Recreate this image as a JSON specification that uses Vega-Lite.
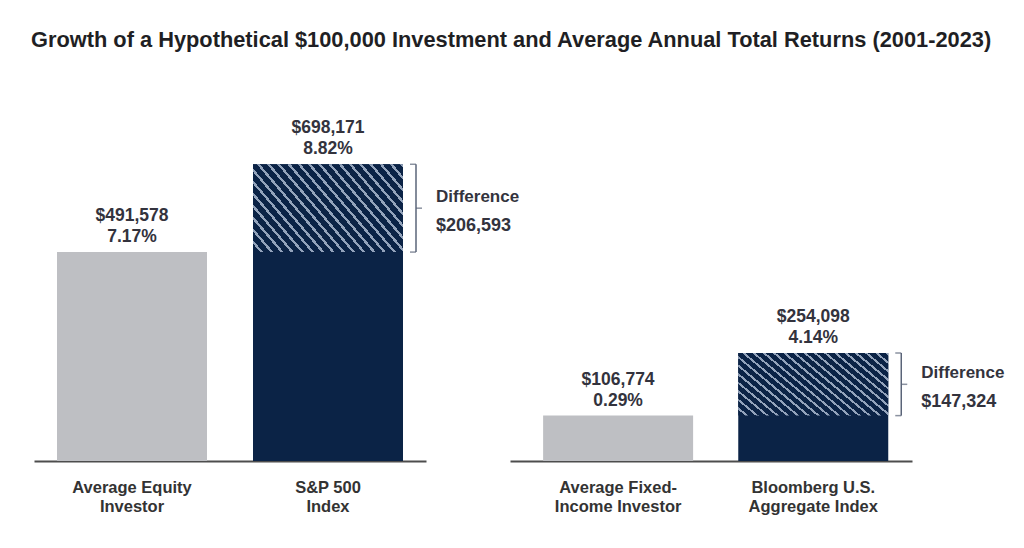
{
  "$schema": "https://vega.github.io/schema/vega-lite/v6.json",
  "padding": {"left": 31, "top": 30, "right": 5, "bottom": 5},
  "background": "white",
  "title": {"text": "Growth of a Hypothetical $100,000 Investment and Average Annual Total Returns (2001-2023)", "font": "Liberation Sans", "fontSize": 21.8, "fontWeight": "bold", "color": "#1F1F24", "anchor": "start", "dx": -3, "offset": 67},
  "datasets": {
    "bars": [
      {"group": "equity", "label": "Average Equity|Investor", "kind": "investor", "value": 491578, "ret": "7.17%"},
      {"group": "equity", "label": "S&P 500|Index", "kind": "index", "value": 698171, "base": 491578, "diff": 206593, "ret": "8.82%"},
      {"group": "fixed", "label": "Average Fixed-|Income Investor", "kind": "investor", "value": 106774, "ret": "0.29%"},
      {"group": "fixed", "label": "Bloomberg U.S.|Aggregate Index", "kind": "index", "value": 254098, "base": 106774, "diff": 147324, "ret": "4.14%"}
    ]
  },
  "data": {"name": "bars"},
  "bounds": "flush",
  "spacing": 84,
  "config": {
    "view": {"stroke": null},
    "font": "Liberation Sans",
    "axis": {"domainColor": "#4D4D4D", "domainWidth": 2, "ticks": false, "grid": false, "labelFont": "Liberation Sans", "labelFontWeight": "bold", "labelFontSize": 16.5, "labelColor": "#333333", "labelPadding": 18, "labelLineHeight": 19, "labelAngle": 0, "title": null, "labelLimit": 300},
    "text": {"font": "Liberation Sans", "fontWeight": "bold", "color": "#33333D"}
  },
  "hconcat": [
    {
      "width": 392, "height": 340,
      "transform": [{"filter": "datum.group === 'equity'"}],
      "encoding": {"x": {"field": "label", "type": "nominal", "sort": null, "scale": {"paddingInner": 0, "paddingOuter": 0}, "axis": {"labelExpr": "split(datum.label, '|')"}}},
      "layer": [
        {"mark": {"type": "bar", "width": 150}, "encoding": {"y": {"field": "value", "type": "quantitative", "scale": {"domain": [0, 788000]}, "axis": null}, "color": {"field": "kind", "type": "nominal", "scale": {"domain": ["investor", "index"], "range": ["#BEBFC3", "#0B2346"]}, "legend": null}}},
        {"transform": [{"filter": "datum.kind === 'index'"}], "mark": {"type": "bar", "width": 150, "fill": {"gradient": "linear", "x1": 0, "y1": 1, "x2": 1.2, "y2": 0.4, "stops": [
          {"offset": 0, "color": "#0B2346"}, {"offset": 0.0318, "color": "#0B2346"}, {"offset": 0.0318, "color": "#93A3BB"}, {"offset": 0.0455, "color": "#93A3BB"},
          {"offset": 0.0455, "color": "#0B2346"}, {"offset": 0.0773, "color": "#0B2346"}, {"offset": 0.0773, "color": "#93A3BB"}, {"offset": 0.0909, "color": "#93A3BB"},
          {"offset": 0.0909, "color": "#0B2346"}, {"offset": 0.1227, "color": "#0B2346"}, {"offset": 0.1227, "color": "#93A3BB"}, {"offset": 0.1364, "color": "#93A3BB"},
          {"offset": 0.1364, "color": "#0B2346"}, {"offset": 0.1682, "color": "#0B2346"}, {"offset": 0.1682, "color": "#93A3BB"}, {"offset": 0.1818, "color": "#93A3BB"},
          {"offset": 0.1818, "color": "#0B2346"}, {"offset": 0.2136, "color": "#0B2346"}, {"offset": 0.2136, "color": "#93A3BB"}, {"offset": 0.2273, "color": "#93A3BB"},
          {"offset": 0.2273, "color": "#0B2346"}, {"offset": 0.2591, "color": "#0B2346"}, {"offset": 0.2591, "color": "#93A3BB"}, {"offset": 0.2727, "color": "#93A3BB"},
          {"offset": 0.2727, "color": "#0B2346"}, {"offset": 0.3045, "color": "#0B2346"}, {"offset": 0.3045, "color": "#93A3BB"}, {"offset": 0.3182, "color": "#93A3BB"},
          {"offset": 0.3182, "color": "#0B2346"}, {"offset": 0.35, "color": "#0B2346"}, {"offset": 0.35, "color": "#93A3BB"}, {"offset": 0.3636, "color": "#93A3BB"},
          {"offset": 0.3636, "color": "#0B2346"}, {"offset": 0.3955, "color": "#0B2346"}, {"offset": 0.3955, "color": "#93A3BB"}, {"offset": 0.4091, "color": "#93A3BB"},
          {"offset": 0.4091, "color": "#0B2346"}, {"offset": 0.4409, "color": "#0B2346"}, {"offset": 0.4409, "color": "#93A3BB"}, {"offset": 0.4545, "color": "#93A3BB"},
          {"offset": 0.4545, "color": "#0B2346"}, {"offset": 0.4864, "color": "#0B2346"}, {"offset": 0.4864, "color": "#93A3BB"}, {"offset": 0.5, "color": "#93A3BB"},
          {"offset": 0.5, "color": "#0B2346"}, {"offset": 0.5318, "color": "#0B2346"}, {"offset": 0.5318, "color": "#93A3BB"}, {"offset": 0.5455, "color": "#93A3BB"},
          {"offset": 0.5455, "color": "#0B2346"}, {"offset": 0.5773, "color": "#0B2346"}, {"offset": 0.5773, "color": "#93A3BB"}, {"offset": 0.5909, "color": "#93A3BB"},
          {"offset": 0.5909, "color": "#0B2346"}, {"offset": 0.6227, "color": "#0B2346"}, {"offset": 0.6227, "color": "#93A3BB"}, {"offset": 0.6364, "color": "#93A3BB"},
          {"offset": 0.6364, "color": "#0B2346"}, {"offset": 0.6682, "color": "#0B2346"}, {"offset": 0.6682, "color": "#93A3BB"}, {"offset": 0.6818, "color": "#93A3BB"},
          {"offset": 0.6818, "color": "#0B2346"}, {"offset": 0.7136, "color": "#0B2346"}, {"offset": 0.7136, "color": "#93A3BB"}, {"offset": 0.7273, "color": "#93A3BB"},
          {"offset": 0.7273, "color": "#0B2346"}, {"offset": 0.7591, "color": "#0B2346"}, {"offset": 0.7591, "color": "#93A3BB"}, {"offset": 0.7727, "color": "#93A3BB"},
          {"offset": 0.7727, "color": "#0B2346"}, {"offset": 0.8045, "color": "#0B2346"}, {"offset": 0.8045, "color": "#93A3BB"}, {"offset": 0.8182, "color": "#93A3BB"},
          {"offset": 0.8182, "color": "#0B2346"}, {"offset": 0.85, "color": "#0B2346"}, {"offset": 0.85, "color": "#93A3BB"}, {"offset": 0.8636, "color": "#93A3BB"},
          {"offset": 0.8636, "color": "#0B2346"}, {"offset": 0.8955, "color": "#0B2346"}, {"offset": 0.8955, "color": "#93A3BB"}, {"offset": 0.9091, "color": "#93A3BB"},
          {"offset": 0.9091, "color": "#0B2346"}, {"offset": 0.9409, "color": "#0B2346"}, {"offset": 0.9409, "color": "#93A3BB"}, {"offset": 0.9545, "color": "#93A3BB"},
          {"offset": 0.9545, "color": "#0B2346"}, {"offset": 0.9864, "color": "#0B2346"}, {"offset": 0.9864, "color": "#93A3BB"}, {"offset": 1, "color": "#93A3BB"}
        ]}}, "encoding": {"y": {"field": "base", "type": "quantitative"}, "y2": {"field": "value"}}},
        {"mark": {"type": "text", "fontSize": 17.5, "dy": -31, "baseline": "alphabetic"}, "encoding": {"y": {"field": "value", "type": "quantitative"}, "text": {"field": "value", "type": "quantitative", "format": "$,.0f"}}},
        {"mark": {"type": "text", "fontSize": 17.5, "dy": -10, "baseline": "alphabetic"}, "encoding": {"y": {"field": "value", "type": "quantitative"}, "text": {"field": "ret", "type": "nominal"}}},
        {"transform": [{"filter": "datum.kind === 'index'"}], "mark": {"type": "rule", "xOffset": 88, "strokeWidth": 1.5, "color": "#5A6478"}, "encoding": {"y": {"field": "base", "type": "quantitative"}, "y2": {"field": "value"}}},
        {"transform": [{"filter": "datum.kind === 'index'"}, {"fold": ["base", "value"], "as": ["k", "v"]}], "mark": {"type": "tick", "orient": "horizontal", "size": 6, "thickness": 1.5, "xOffset": 85, "color": "#5A6478"}, "encoding": {"y": {"field": "v", "type": "quantitative"}}},
        {"transform": [{"filter": "datum.kind === 'index'"}, {"fold": ["base", "value"], "as": ["k", "v"]}, {"aggregate": [{"op": "mean", "field": "v", "as": "mid"}], "groupby": ["label", "diff"]}],
         "layer": [
           {"mark": {"type": "tick", "orient": "horizontal", "size": 6, "thickness": 1.5, "xOffset": 91, "color": "#5A6478"}, "encoding": {"y": {"field": "mid", "type": "quantitative"}}},
           {"mark": {"type": "text", "fontSize": 17, "align": "left", "baseline": "middle", "xOffset": 108, "dy": -11}, "encoding": {"y": {"field": "mid", "type": "quantitative"}, "text": {"value": "Difference"}}},
           {"mark": {"type": "text", "fontSize": 18, "align": "left", "baseline": "middle", "xOffset": 108, "dy": 18}, "encoding": {"y": {"field": "mid", "type": "quantitative"}, "text": {"field": "diff", "type": "quantitative", "format": "$,.0f"}}}
         ]}
      ]
    },
    {
      "width": 402, "height": 340,
      "transform": [{"filter": "datum.group === 'fixed'"}],
      "encoding": {"x": {"field": "label", "type": "nominal", "sort": null, "scale": {"paddingInner": 0, "paddingOuter": 0.03, "align": 0.9}, "axis": {"labelExpr": "split(datum.label, '|')"}}},
      "layer": [
        {"mark": {"type": "bar", "width": 150}, "encoding": {"y": {"field": "value", "type": "quantitative", "scale": {"domain": [0, 788000]}, "axis": null}, "color": {"field": "kind", "type": "nominal", "scale": {"domain": ["investor", "index"], "range": ["#BEBFC3", "#0B2346"]}, "legend": null}}},
        {"transform": [{"filter": "datum.kind === 'index'"}], "mark": {"type": "bar", "width": 150, "fill": {"gradient": "linear", "x1": 0, "y1": 1, "x2": 1.2, "y2": 0.4, "stops": [
          {"offset": 0, "color": "#0B2346"}, {"offset": 0.0318, "color": "#0B2346"}, {"offset": 0.0318, "color": "#93A3BB"}, {"offset": 0.0455, "color": "#93A3BB"},
          {"offset": 0.0455, "color": "#0B2346"}, {"offset": 0.0773, "color": "#0B2346"}, {"offset": 0.0773, "color": "#93A3BB"}, {"offset": 0.0909, "color": "#93A3BB"},
          {"offset": 0.0909, "color": "#0B2346"}, {"offset": 0.1227, "color": "#0B2346"}, {"offset": 0.1227, "color": "#93A3BB"}, {"offset": 0.1364, "color": "#93A3BB"},
          {"offset": 0.1364, "color": "#0B2346"}, {"offset": 0.1682, "color": "#0B2346"}, {"offset": 0.1682, "color": "#93A3BB"}, {"offset": 0.1818, "color": "#93A3BB"},
          {"offset": 0.1818, "color": "#0B2346"}, {"offset": 0.2136, "color": "#0B2346"}, {"offset": 0.2136, "color": "#93A3BB"}, {"offset": 0.2273, "color": "#93A3BB"},
          {"offset": 0.2273, "color": "#0B2346"}, {"offset": 0.2591, "color": "#0B2346"}, {"offset": 0.2591, "color": "#93A3BB"}, {"offset": 0.2727, "color": "#93A3BB"},
          {"offset": 0.2727, "color": "#0B2346"}, {"offset": 0.3045, "color": "#0B2346"}, {"offset": 0.3045, "color": "#93A3BB"}, {"offset": 0.3182, "color": "#93A3BB"},
          {"offset": 0.3182, "color": "#0B2346"}, {"offset": 0.35, "color": "#0B2346"}, {"offset": 0.35, "color": "#93A3BB"}, {"offset": 0.3636, "color": "#93A3BB"},
          {"offset": 0.3636, "color": "#0B2346"}, {"offset": 0.3955, "color": "#0B2346"}, {"offset": 0.3955, "color": "#93A3BB"}, {"offset": 0.4091, "color": "#93A3BB"},
          {"offset": 0.4091, "color": "#0B2346"}, {"offset": 0.4409, "color": "#0B2346"}, {"offset": 0.4409, "color": "#93A3BB"}, {"offset": 0.4545, "color": "#93A3BB"},
          {"offset": 0.4545, "color": "#0B2346"}, {"offset": 0.4864, "color": "#0B2346"}, {"offset": 0.4864, "color": "#93A3BB"}, {"offset": 0.5, "color": "#93A3BB"},
          {"offset": 0.5, "color": "#0B2346"}, {"offset": 0.5318, "color": "#0B2346"}, {"offset": 0.5318, "color": "#93A3BB"}, {"offset": 0.5455, "color": "#93A3BB"},
          {"offset": 0.5455, "color": "#0B2346"}, {"offset": 0.5773, "color": "#0B2346"}, {"offset": 0.5773, "color": "#93A3BB"}, {"offset": 0.5909, "color": "#93A3BB"},
          {"offset": 0.5909, "color": "#0B2346"}, {"offset": 0.6227, "color": "#0B2346"}, {"offset": 0.6227, "color": "#93A3BB"}, {"offset": 0.6364, "color": "#93A3BB"},
          {"offset": 0.6364, "color": "#0B2346"}, {"offset": 0.6682, "color": "#0B2346"}, {"offset": 0.6682, "color": "#93A3BB"}, {"offset": 0.6818, "color": "#93A3BB"},
          {"offset": 0.6818, "color": "#0B2346"}, {"offset": 0.7136, "color": "#0B2346"}, {"offset": 0.7136, "color": "#93A3BB"}, {"offset": 0.7273, "color": "#93A3BB"},
          {"offset": 0.7273, "color": "#0B2346"}, {"offset": 0.7591, "color": "#0B2346"}, {"offset": 0.7591, "color": "#93A3BB"}, {"offset": 0.7727, "color": "#93A3BB"},
          {"offset": 0.7727, "color": "#0B2346"}, {"offset": 0.8045, "color": "#0B2346"}, {"offset": 0.8045, "color": "#93A3BB"}, {"offset": 0.8182, "color": "#93A3BB"},
          {"offset": 0.8182, "color": "#0B2346"}, {"offset": 0.85, "color": "#0B2346"}, {"offset": 0.85, "color": "#93A3BB"}, {"offset": 0.8636, "color": "#93A3BB"},
          {"offset": 0.8636, "color": "#0B2346"}, {"offset": 0.8955, "color": "#0B2346"}, {"offset": 0.8955, "color": "#93A3BB"}, {"offset": 0.9091, "color": "#93A3BB"},
          {"offset": 0.9091, "color": "#0B2346"}, {"offset": 0.9409, "color": "#0B2346"}, {"offset": 0.9409, "color": "#93A3BB"}, {"offset": 0.9545, "color": "#93A3BB"},
          {"offset": 0.9545, "color": "#0B2346"}, {"offset": 0.9864, "color": "#0B2346"}, {"offset": 0.9864, "color": "#93A3BB"}, {"offset": 1, "color": "#93A3BB"}
        ]}}, "encoding": {"y": {"field": "base", "type": "quantitative"}, "y2": {"field": "value"}}},
        {"mark": {"type": "text", "fontSize": 17.5, "dy": -31, "baseline": "alphabetic"}, "encoding": {"y": {"field": "value", "type": "quantitative"}, "text": {"field": "value", "type": "quantitative", "format": "$,.0f"}}},
        {"mark": {"type": "text", "fontSize": 17.5, "dy": -10, "baseline": "alphabetic"}, "encoding": {"y": {"field": "value", "type": "quantitative"}, "text": {"field": "ret", "type": "nominal"}}},
        {"transform": [{"filter": "datum.kind === 'index'"}], "mark": {"type": "rule", "xOffset": 88, "strokeWidth": 1.5, "color": "#5A6478"}, "encoding": {"y": {"field": "base", "type": "quantitative"}, "y2": {"field": "value"}}},
        {"transform": [{"filter": "datum.kind === 'index'"}, {"fold": ["base", "value"], "as": ["k", "v"]}], "mark": {"type": "tick", "orient": "horizontal", "size": 6, "thickness": 1.5, "xOffset": 85, "color": "#5A6478"}, "encoding": {"y": {"field": "v", "type": "quantitative"}}},
        {"transform": [{"filter": "datum.kind === 'index'"}, {"fold": ["base", "value"], "as": ["k", "v"]}, {"aggregate": [{"op": "mean", "field": "v", "as": "mid"}], "groupby": ["label", "diff"]}],
         "layer": [
           {"mark": {"type": "tick", "orient": "horizontal", "size": 6, "thickness": 1.5, "xOffset": 91, "color": "#5A6478"}, "encoding": {"y": {"field": "mid", "type": "quantitative"}}},
           {"mark": {"type": "text", "fontSize": 17, "align": "left", "baseline": "middle", "xOffset": 108, "dy": -11}, "encoding": {"y": {"field": "mid", "type": "quantitative"}, "text": {"value": "Difference"}}},
           {"mark": {"type": "text", "fontSize": 18, "align": "left", "baseline": "middle", "xOffset": 108, "dy": 18}, "encoding": {"y": {"field": "mid", "type": "quantitative"}, "text": {"field": "diff", "type": "quantitative", "format": "$,.0f"}}}
         ]}
      ]
    }
  ]
}
